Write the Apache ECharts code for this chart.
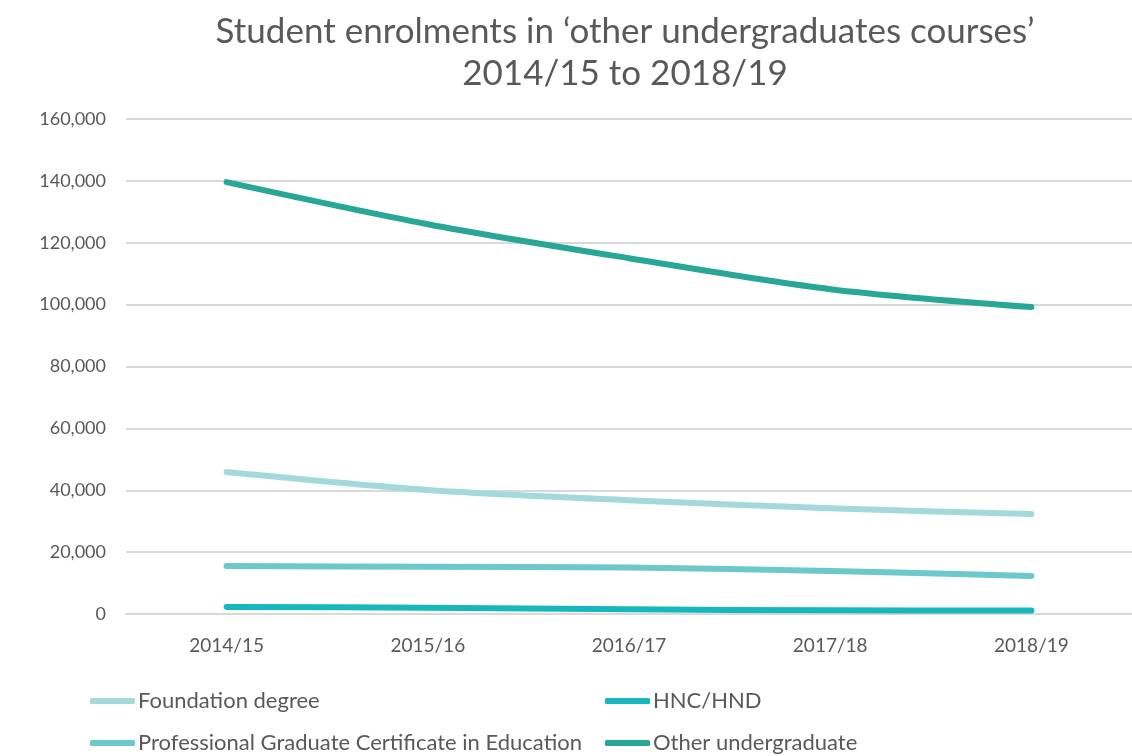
<!DOCTYPE html>
<html>
<head>
<meta charset="utf-8">
<style>
  html, body { margin: 0; padding: 0; background: #fff; }
  #chart { width: 1132px; height: 756px; }
</style>
<script src="https://cdn.jsdelivr.net/npm/echarts@6/dist/echarts.min.js"></script>
</head>
<body>
<div id="chart"></div>
<script>
// data
const years = ['2014/15', '2015/16', '2016/17', '2017/18', '2018/19']
const foundation = [45900, 40100, 36800, 34200, 32300]
const hncHnd = [2300, 2000, 1500, 1200, 1100]
const pgce = [15500, 15300, 15000, 13900, 12300]
const otherUg = [139600, 126000, 115000, 105000, 99200]
const seriesNames = ['Foundation degree', 'HNC/HND', 'Professional Graduate Certificate in Education', 'Other undergraduate']
const seriesColors = ['#a1d9dc', '#17b8bd', '#6cc8ca', '#29a796']

const font = 'Lato, "Open Sans", sans-serif'
const grey = '#595959'

const chart = echarts.init(document.getElementById('chart'))

const values = [foundation, hncHnd, pgce, otherUg]

// one legend per item so each can sit where the reference puts it
const legendPos = [
  { left: 90, top: 690 },
  { left: 605, top: 690 },
  { left: 90, top: 732 },
  { left: 605, top: 732 }
]

chart.setOption({
  animation: false,
  title: {
    text: 'Student enrolments in ‘other undergraduates courses’\n2014/15 to 2018/19',
    left: 620,
    top: 6,
    textAlign: 'center',
    textStyle: {
      fontFamily: font,
      fontSize: 35,
      fontWeight: 'normal',
      color: grey,
      lineHeight: 42
    }
  },
  legend: legendPos.map((p, i) => ({
    data: [seriesNames[i]],
    left: p.left,
    top: p.top,
    padding: 0,
    icon: 'roundRect',
    itemWidth: 45,
    itemHeight: 6,
    itemGap: 0,
    textStyle: { fontFamily: font, fontSize: 22, color: grey, padding: [0, 0, 0, -2] }
  })),
  grid: {
    left: 126,
    right: -6,
    top: 119,
    bottom: 142,
    containLabel: false
  },
  xAxis: {
    type: 'category',
    data: years,
    boundaryGap: true,
    axisLine: { show: true, lineStyle: { color: '#d9d9d9', width: 2 } },
    axisTick: { show: false },
    axisLabel: { fontFamily: font, fontSize: 19, color: grey, margin: 22 }
  },
  yAxis: {
    type: 'value',
    min: 0,
    max: 160000,
    interval: 20000,
    axisLine: { show: false },
    axisTick: { show: false },
    splitLine: { lineStyle: { color: '#d9d9d9', width: 2 } },
    axisLabel: {
      fontFamily: font,
      fontSize: 18,
      color: grey,
      margin: 20,
      formatter: v => v.toLocaleString('en-GB')
    }
  },
  series: seriesNames.map((name, i) => ({
    name: name,
    type: 'line',
    data: values[i],
    smooth: 0.3,
    symbol: 'none',
    color: seriesColors[i],
    lineStyle: { width: 6, cap: 'round', join: 'round', color: seriesColors[i] }
  }))
})
</script>
</body>
</html>
